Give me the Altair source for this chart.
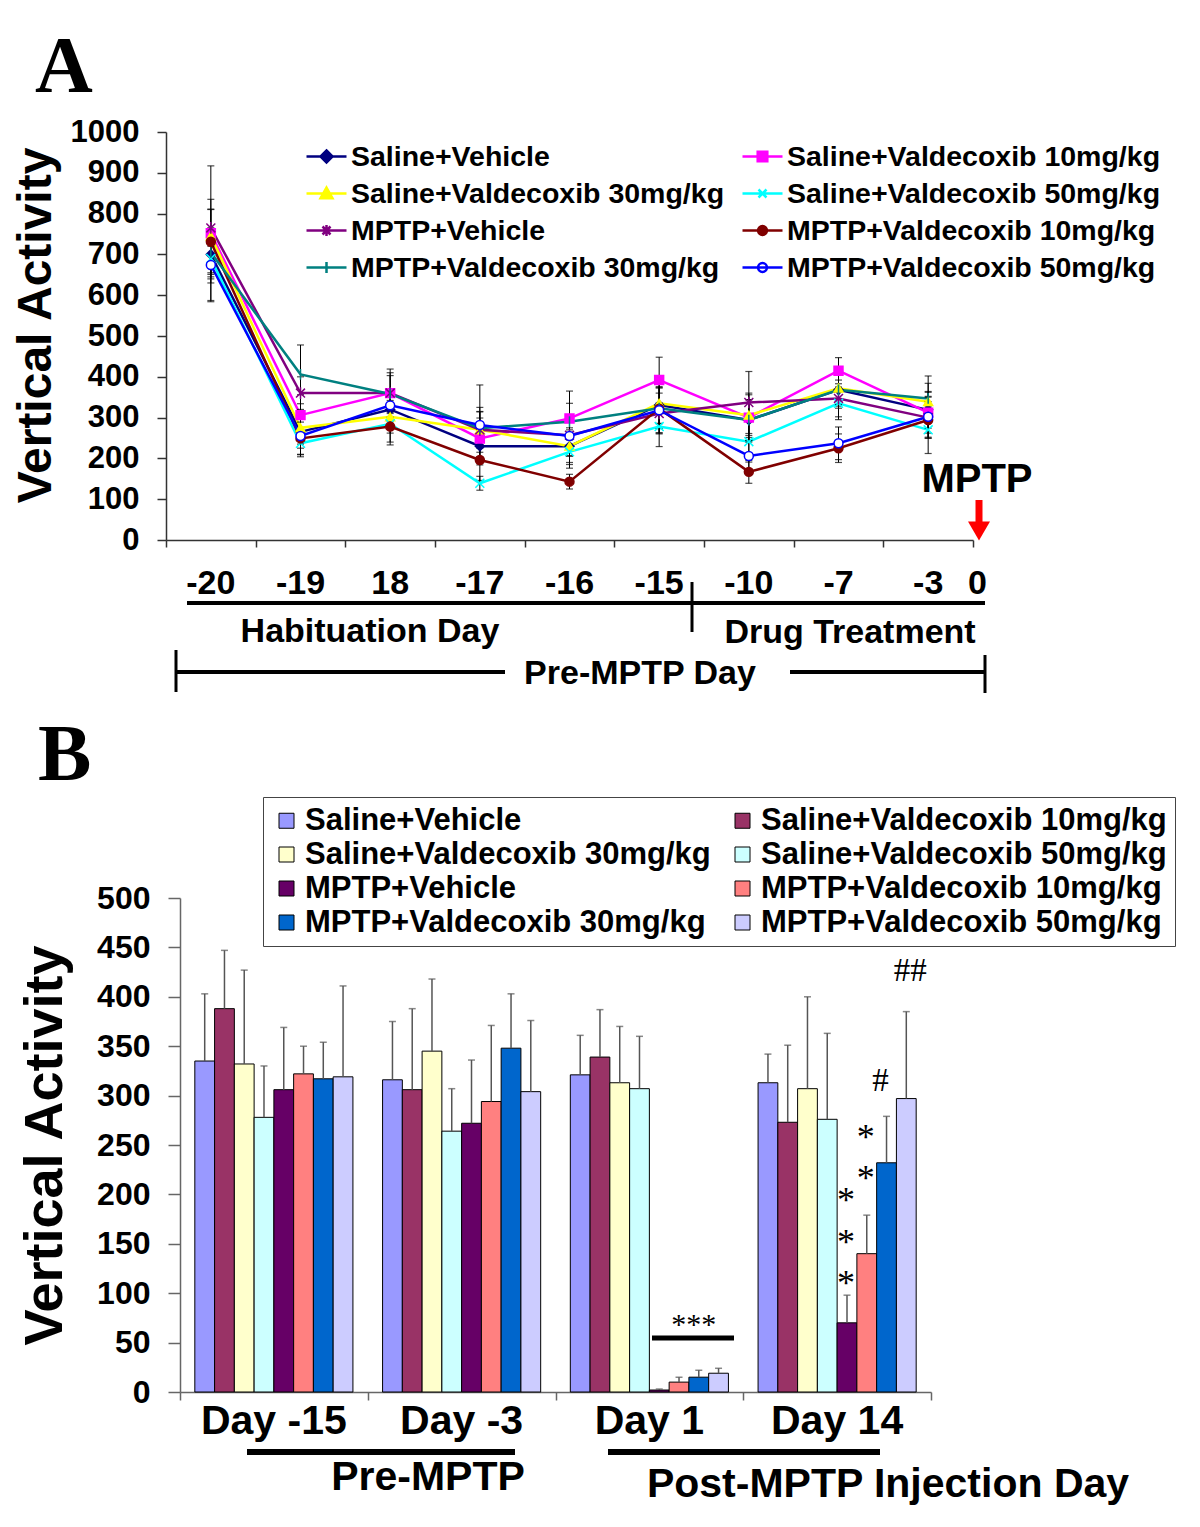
import altair as alt
import pandas as pd

FONT = "Liberation Sans"
SERIF = "Liberation Serif"

# ------------------------------------------------------------------ data
SERIES = [
    "Saline+Vehicle",
    "Saline+Valdecoxib 10mg/kg",
    "Saline+Valdecoxib 30mg/kg",
    "Saline+Valdecoxib 50mg/kg",
    "MPTP+Vehicle",
    "MPTP+Valdecoxib 10mg/kg",
    "MPTP+Valdecoxib 30mg/kg",
    "MPTP+Valdecoxib 50mg/kg",
]

# Panel A : vertical activity per habituation / treatment day
DAYS_A = ["-20", "-19", "18", "-17", "-16", "-15", "-10", "-7", "-3"]
END_DAY_A = "0"

A_SAL_VEH = [700, 265, 320, 230, 230, 331, 294, 368, 319]
A_SAL_V10 = [752, 306, 360, 249, 298, 392, 300, 415, 312]
A_SAL_V30 = [745, 275, 302, 270, 230, 335, 306, 372, 339]
A_SAL_V50 = [690, 237, 285, 139, 216, 278, 241, 335, 270]
A_MPTP_VEH = [765, 360, 360, 270, 257, 310, 337, 347, 300]
A_MPTP_V10 = [731, 249, 278, 196, 143, 322, 167, 225, 294]
A_MPTP_V30 = [705, 406, 358, 274, 290, 323, 294, 368, 347]
A_MPTP_V50 = [674, 255, 330, 282, 255, 318, 206, 237, 302]

E_SAL_VEH = [60, 40, 40, 40, 40, 45, 50, 40, 45]
E_SAL_V10 = [165, 50, 59, 50, 67, 56, 60, 32, 50]
E_SAL_V30 = [90, 40, 40, 45, 45, 50, 50, 40, 45]
E_SAL_V50 = [60, 33, 45, 17, 40, 49, 50, 40, 58]
E_MPTP_VEH = [45, 40, 50, 55, 50, 50, 76, 45, 50]
E_MPTP_V10 = [80, 40, 45, 50, 18, 60, 28, 35, 45]
E_MPTP_V30 = [60, 72, 45, 40, 45, 50, 50, 45, 55]
E_MPTP_V50 = [90, 45, 40, 98, 50, 55, 45, 40, 50]

A_MEANS = [A_SAL_VEH, A_SAL_V10, A_SAL_V30, A_SAL_V50,
           A_MPTP_VEH, A_MPTP_V10, A_MPTP_V30, A_MPTP_V50]
A_ERRS = [E_SAL_VEH, E_SAL_V10, E_SAL_V30, E_SAL_V50,
          E_MPTP_VEH, E_MPTP_V10, E_MPTP_V30, E_MPTP_V50]

# Panel B : vertical activity before / after MPTP
GROUPS_B = ["Day -15", "Day -3", "Day 1", "Day 14"]
B_DAY_M15 = [335, 388, 332, 278, 306, 322, 317, 319]
B_DAY_M3 = [316, 306, 345, 264, 272, 294, 348, 304]
B_DAY_1 = [321, 339, 313, 307, 2, 10, 15, 19]
B_DAY_14 = [313, 273, 307, 276, 70, 140, 232, 297]
BE_DAY_M15 = [68, 59, 95, 52, 63, 28, 37, 92]
BE_DAY_M3 = [59, 82, 73, 43, 64, 77, 55, 72]
BE_DAY_1 = [40, 48, 57, 53, 1, 5, 7, 5]
BE_DAY_14 = [29, 78, 93, 87, 28, 39, 47, 88]
B_MEANS = [B_DAY_M15, B_DAY_M3, B_DAY_1, B_DAY_14]
B_ERRS = [BE_DAY_M15, BE_DAY_M3, BE_DAY_1, BE_DAY_14]

# significance marks: (group, bar, value, text)
STARS = [
    ("Day 14", "MPTP+Vehicle", 199, "*"),
    ("Day 14", "MPTP+Vehicle", 157, "*"),
    ("Day 14", "MPTP+Vehicle", 115, "*"),
    ("Day 14", "MPTP+Valdecoxib 10mg/kg", 263, "*"),
    ("Day 14", "MPTP+Valdecoxib 10mg/kg", 222, "*"),
]
STARS3 = [("Day 1", "MPTP+Valdecoxib 30mg/kg", 73, "***")]
HASH1 = [("Day 14", "MPTP+Valdecoxib 30mg/kg", 316, "#")]
HASH2 = [("Day 14", "MPTP+Valdecoxib 50mg/kg", 427, "##")]

# ------------------------------------------------------------------ styles
LINE_COLORS = ["#000080", "#FF00FF", "#FFFF00", "#00FFFF",
               "#800080", "#800000", "#008080", "#0000FF"]
POINT_FILLS = ["#000080", "#FF00FF", "#FFFF00", "#00FFFF",
               "#800080", "#800000", "#008080", "#FFFFFF"]
XPATH = "M-1,-1L1,1M-1,1L1,-1"
POINT_SHAPES = ["diamond", "square", "triangle-up", XPATH,
                XPATH + "M0,-1.3L0,1.3", "circle", "M0,-1.2L0,1.2", "circle"]
LN = "M-1,0L1,0"
CIRC = "M-0.22,0A0.22,0.22,0,1,0,0.22,0A0.22,0.22,0,1,0,-0.22,0Z"
LEGEND_SHAPES = [
    LN + "M0,-0.3L0.3,0L0,0.3L-0.3,0Z",
    LN + "M-0.24,-0.24L0.24,-0.24L0.24,0.24L-0.24,0.24Z",
    LN + "M0,-0.3L0.3,0.24L-0.3,0.24Z",
    LN + "M-0.2,-0.2L0.2,0.2M-0.2,0.2L0.2,-0.2",
    LN + "M-0.2,-0.2L0.2,0.2M-0.2,0.2L0.2,-0.2M0,-0.28L0,0.28",
    LN + CIRC,
    LN + "M0,-0.28L0,0.28",
    LN + CIRC,
]
BAR_COLORS = ["#9999FF", "#993366", "#FFFFCC", "#CCFFFF",
              "#660066", "#FF8080", "#0066CC", "#CCCCFF"]

# ------------------------------------------------------------------ frames
rows = []
for s, means, errs in zip(SERIES, A_MEANS, A_ERRS):
    for i, (m, e) in enumerate(zip(means, errs)):
        rows.append({"series": s, "x": i, "mean": m, "lo": m - e, "hi": m + e})
dfa = pd.DataFrame(rows)

rows = []
for g, means, errs in zip(GROUPS_B, B_MEANS, B_ERRS):
    for s, m, e in zip(SERIES, means, errs):
        rows.append({"group": g, "series": s, "mean": m, "hi": m + e})
dfb = pd.DataFrame(rows)

ONE = pd.DataFrame({"k": [0]})


def hrule(x1, x2, y, w, color="black"):
    return alt.Chart(ONE).mark_rule(strokeWidth=w, color=color).encode(
        x=alt.value(x1), x2=alt.value(x2), y=alt.value(y))


def vrule(x, y1, y2, w, color="black"):
    return alt.Chart(ONE).mark_rule(strokeWidth=w, color=color).encode(
        x=alt.value(x), y=alt.value(y1), y2=alt.value(y2))


def label(txt, x, y, size, font=FONT, align="center", baseline="middle"):
    return alt.Chart(ONE).mark_text(text=txt, font=font, fontSize=size, fontWeight="bold",
                                    align=align, baseline=baseline, color="black").encode(
        x=alt.value(x), y=alt.value(y))


# ------------------------------------------------------------------ panel A
xsA = alt.Scale(domain=[-0.5, 8.5], range=[0, 807], nice=False, zero=False)
ysA = alt.Scale(domain=[0, 1000], range=[408, 0], nice=False)
axXA = alt.Axis(orient="bottom", offset=-852, values=[i - 0.5 for i in range(10)],
                labels=False, title=None, grid=False, tickSize=7, tickColor="#333",
                domainColor="#333", domainWidth=1.5, tickWidth=1.5)
axYA = alt.Axis(orient="left", values=list(range(0, 1001, 100)), format="d",
                title="Vertical Activity",
                titleFont=FONT, titleFontSize=48, titleFontWeight="bold", titleColor="black",
                titleX=-116, titleY=193, titleAngle=270, titleBaseline="alphabetic",
                titleAlign="center", labelFont=FONT, labelFontSize=31, labelFontWeight="bold",
                labelColor="black", labelPadding=18, tickSize=9, tickColor="#333",
                domainColor="#333", domainWidth=1.5, tickWidth=1.5, grid=False)


def XA(f):
    return alt.X(f + ":Q", scale=xsA, axis=axXA)


def YA(f):
    return alt.Y(f + ":Q", scale=ysA, axis=axYA)


linesA = alt.Chart(dfa).mark_line(strokeWidth=2.5).encode(
    x=XA("x"), y=YA("mean"),
    color=alt.Color("series:N", scale=alt.Scale(domain=SERIES, range=LINE_COLORS), legend=None),
)
errA = alt.Chart(dfa).mark_rule(color="black", strokeWidth=1).encode(
    x=XA("x"), y=YA("lo"), y2=alt.Y2("hi:Q"))
capLoA = alt.Chart(dfa).mark_tick(color="black", orient="horizontal", size=7, thickness=1.2).encode(
    x=XA("x"), y=YA("lo"))
capHiA = alt.Chart(dfa).mark_tick(color="black", orient="horizontal", size=7, thickness=1.2).encode(
    x=XA("x"), y=YA("hi"))
pointsA = alt.Chart(dfa).mark_point(size=80, strokeWidth=1.5, opacity=1, filled=True).encode(
    x=XA("x"), y=YA("mean"),
    shape=alt.Shape("series:N", scale=alt.Scale(domain=SERIES, range=POINT_SHAPES), legend=None),
    fill=alt.Fill("series:N", scale=alt.Scale(domain=SERIES, range=POINT_FILLS), legend=None),
    stroke=alt.Stroke("series:N", scale=alt.Scale(domain=SERIES, range=LINE_COLORS), legend=None),
)

legA = alt.Legend(title=None, orient="none", legendX=139, legendY=3, columns=2,
                  direction="horizontal",
                  symbolSize=1600, symbolStrokeWidth=2.5, labelFont=FONT, labelFontSize=28.5,
                  labelFontWeight="bold", labelColor="black", labelLimit=1000, labelOffset=3,
                  columnPadding=12, rowPadding=1, padding=0)
legendLayerA = alt.Chart(pd.DataFrame({"series": SERIES})).transform_filter("false").mark_point(
    strokeWidth=2.5, opacity=1, filled=True).encode(
    shape=alt.Shape("series:N", scale=alt.Scale(domain=SERIES, range=LEGEND_SHAPES), legend=legA),
    fill=alt.Fill("series:N", scale=alt.Scale(domain=SERIES, range=POINT_FILLS), legend=legA),
    stroke=alt.Stroke("series:N", scale=alt.Scale(domain=SERIES, range=LINE_COLORS), legend=legA),
)

dayLabelsA = alt.Chart(pd.DataFrame({"x": list(range(len(DAYS_A))) + [8.55],
                                     "label": DAYS_A + [END_DAY_A]})).mark_text(
    font=FONT, fontSize=34, fontWeight="bold", baseline="middle", color="black").encode(
    x=XA("x"), y=alt.value(452), text="label:N")

arrowShaft = vrule(813, 368, 392, 7, color="#FF0000")
arrowHead = alt.Chart(ONE).mark_point(shape="triangle-down", size=484, filled=True,
                                      color="#FF0000", opacity=1).encode(
    x=alt.value(813), y=alt.value(399))

layerA = alt.layer(
    linesA, errA, capLoA, capHiA, pointsA, legendLayerA, dayLabelsA,
    label("A", -131, -40, 80, font=SERIF, align="left", baseline="alphabetic"),
    label("MPTP", 811, 348, 40),
    arrowShaft, arrowHead,
    hrule(21, 819, 471, 4), vrule(526, 450, 500, 3),
    label("Habituation Day", 204, 500, 34), label("Drug Treatment", 684, 501, 34),
    hrule(9, 339, 540, 4), hrule(624, 819, 540, 4),
    vrule(10, 518, 560, 3), vrule(819, 523, 561, 3),
    label("Pre-MPTP Day", 474, 542, 34),
).resolve_scale(shape="independent", fill="independent", stroke="independent")

# ------------------------------------------------------------------ panel B
xsB = alt.Scale(domain=GROUPS_B, range=[14, 765], paddingInner=0, paddingOuter=0)
axXB = alt.Axis(orient="bottom", labels=False, title=None, tickBand="extent", tickSize=8,
                tickColor="#666", domainColor="#666", domainWidth=1.5, tickWidth=1.5, grid=False)
xoB = alt.Scale(domain=SERIES, paddingInner=0, paddingOuter=0.75)
ysB = alt.Scale(domain=[0, 500], range=[1260, 766], nice=False)
axYB = alt.Axis(orient="left", offset=-14, values=list(range(0, 501, 50)), format="d",
                title="Vertical Activity",
                titleFont=FONT, titleFontSize=54, titleFontWeight="bold", titleColor="black",
                titleX=-119, titleY=1013, titleAngle=270, titleBaseline="alphabetic",
                titleAlign="center", labelFont=FONT, labelFontSize=32, labelFontWeight="bold",
                labelColor="black", labelPadding=18, tickSize=12, tickColor="#666",
                domainColor="#666", domainWidth=1.5, tickWidth=1.5, grid=False)


def XB():
    return alt.X("group:N", scale=xsB, axis=axXB)


def XOB():
    return alt.XOffset("series:N", scale=xoB)


def YB(f):
    return alt.Y(f + ":Q", scale=ysB, axis=axYB)


legB = alt.Legend(title=None, orient="none", legendX=97, legendY=665, columns=2,
                  direction="horizontal",
                  symbolType="square", symbolSize=225, symbolStrokeColor="black",
                  symbolStrokeWidth=1, labelFont=FONT, labelFontSize=31, labelFontWeight="bold",
                  labelColor="black", labelLimit=1000, labelOffset=3, columnPadding=16,
                  rowPadding=2, padding=8, strokeColor="#444", fillColor="white")

barsB = alt.Chart(dfb).mark_bar(stroke="black", strokeWidth=1).encode(
    x=XB(), xOffset=XOB(), y=YB("mean"),
    fill=alt.Fill("series:N", scale=alt.Scale(domain=SERIES, range=BAR_COLORS), legend=legB),
)
errB = alt.Chart(dfb).mark_rule(color="#555", strokeWidth=1.5).encode(
    x=XB(), xOffset=XOB(), y=YB("mean"), y2=alt.Y2("hi:Q"))
capB = alt.Chart(dfb).mark_tick(color="#555", orient="horizontal", size=7, thickness=1.5).encode(
    x=XB(), xOffset=XOB(), y=YB("hi"))

dayLabelsB = alt.Chart(pd.DataFrame({"group": GROUPS_B})).mark_text(
    font=FONT, fontSize=41, fontWeight="bold", baseline="middle", color="black").encode(
    x=XB(), y=alt.value(1290), text="group:N")


def sig(items, size, dx, dy):
    df = pd.DataFrame(items, columns=["group", "series", "v", "t"])
    return alt.Chart(df).mark_text(font=SERIF, fontSize=size, baseline="alphabetic",
                                   color="black", dx=dx, dy=dy).encode(
        x=XB(), xOffset=XOB(), y=YB("v"), text="t:N")


layerB = alt.layer(
    barsB, errB, capB, dayLabelsB,
    sig(STARS, 36, -1, 17), sig(STARS3, 30, -5, 14), sig(HASH1, 33, -6, 11), sig(HASH2, 33, 4, 11),
    hrule(486, 568, 1206, 5),
    label("B", -128, 648, 80, font=SERIF, align="left", baseline="alphabetic"),
    hrule(81, 349, 1320, 6), hrule(442, 714, 1320, 6),
    label("Pre-MPTP", 262, 1346, 41), label("Post-MPTP Injection Day", 722, 1353, 41),
)

chart = alt.layer(layerA, layerB).resolve_scale(
    x="independent", y="independent", color="independent",
    fill="independent", stroke="independent", shape="independent",
).properties(
    width=1010, height=1260,
    autosize=alt.AutoSizeParams(type="none"),
    padding={"left": 158, "top": 124, "right": 16, "bottom": 127},
).configure_view(strokeWidth=0)

chart.save("out.html", embed_options={"renderer": "svg", "actions": False})
